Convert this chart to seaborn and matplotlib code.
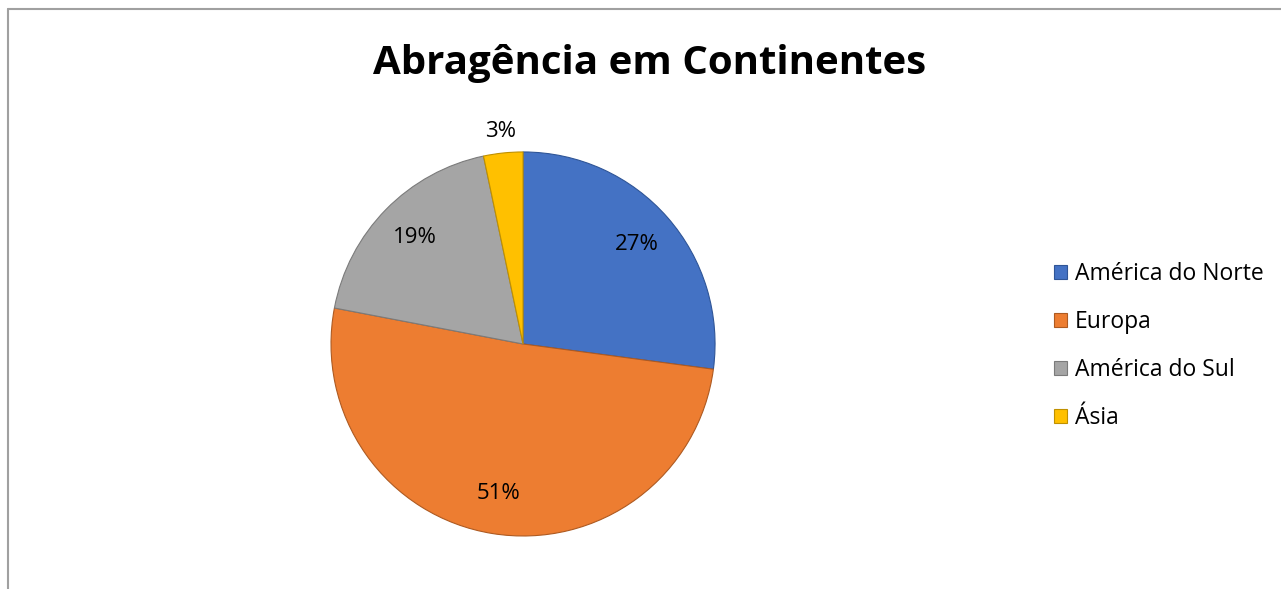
import numpy as np
import matplotlib
matplotlib.use("Agg")
import matplotlib.pyplot as plt
import seaborn as sns
from matplotlib.patches import Patch
from matplotlib.lines import Line2D

sns.set_theme(style="white")
plt.rcParams['font.family'] = ['Open Sans', 'DejaVu Sans']
plt.rcParams['text.color'] = '#000000'

categories = ["América do Norte", "Europa", "América do Sul", "Ásia"]
values = [27.1, 50.9, 18.7, 3.3]
colors = ["#4472C4", "#ED7D31", "#A5A5A5", "#FFC000"]
edge_colors = ["#2F5597", "#AE5A21", "#7B7B7B", "#BF9000"]
title = "Abragência em Continentes"

fig = plt.figure(figsize=(12.81, 5.89), dpi=100)
ax = fig.add_axes([0.2584, 0.090, 0.2998, 0.652])

wedges, _ = ax.pie(values, colors=colors, startangle=90, counterclock=False,
                   wedgeprops=dict(linewidth=0.8))
for w, ec in zip(wedges, edge_colors):
    w.set_edgecolor(ec)
ax.set_aspect('equal')
ax.set_xlim(-1, 1)
ax.set_ylim(-1, 1)

total = sum(values)
for w, v in zip(wedges, values):
    ang = np.deg2rad((w.theta1 + w.theta2) / 2)
    frac = v / total
    d = 0.79 if frac > 0.05 else 1.11
    ax.text(d * np.cos(ang), d * np.sin(ang), f"{round(frac*100):.0f}%",
            ha='center', va='center', fontsize=16, color='#000000')

fig.text(0.507, 0.893, title, ha='center', va='center', fontsize=29,
         fontweight='bold', color='#000000')

handles = [Patch(facecolor=c, edgecolor=ec, linewidth=0.8) for c, ec in zip(colors, edge_colors)]
leg = fig.legend(handles, categories, loc='upper left', bbox_to_anchor=(0.8228, 0.555),
                 frameon=False, fontsize=16.5, handlelength=0.55, handleheight=0.55,
                 handletextpad=0.36, labelspacing=1.05, borderpad=0, borderaxespad=0)
for t in leg.get_texts():
    t.set_color('#000000')

# chart frame (top and left edges visible)
fig.add_artist(Line2D([0.0059, 0.0059], [0.0, 0.985], transform=fig.transFigure,
                      color='#A0A0A0', linewidth=1.5))
fig.add_artist(Line2D([0.0059, 1.0], [0.985, 0.985], transform=fig.transFigure,
                      color='#A0A0A0', linewidth=1.5))

fig.savefig("out.png", dpi=100, facecolor='white')
